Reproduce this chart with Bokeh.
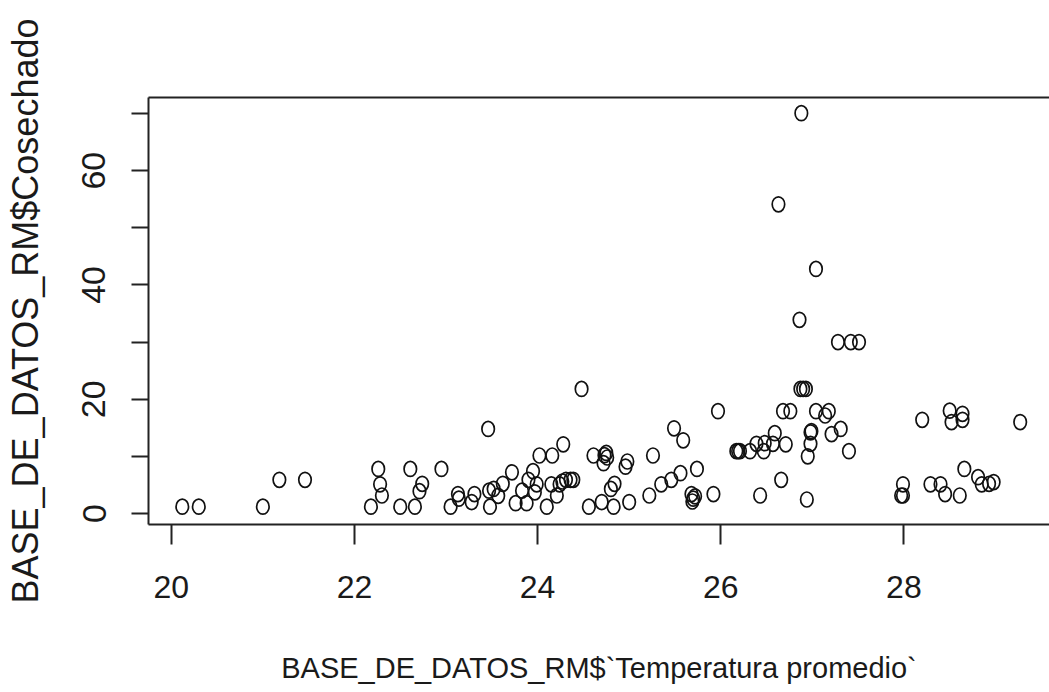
from bokeh.plotting import figure
from bokeh.models import Range1d, FixedTicker, LinearAxis, ColumnDataSource
from bokeh.embed import file_html
from bokeh.resources import INLINE

temperatura = [
    20.12, 20.30, 21.00, 21.18, 21.46, 22.18, 22.26, 22.28, 22.30, 22.50,
    22.61, 22.66, 22.71, 22.74, 22.95, 23.05, 23.13, 23.14, 23.28, 23.31,
    23.46, 23.47, 23.48, 23.52, 23.57, 23.62, 23.72, 23.76, 23.83, 23.88,
    23.90, 23.95, 23.97, 23.99, 24.02, 24.10, 24.15, 24.16, 24.21, 24.24,
    24.27, 24.28, 24.31, 24.36, 24.39, 24.48, 24.56, 24.61, 24.70, 24.72,
    24.73, 24.75, 24.76, 24.80, 24.83, 24.84, 24.96, 24.98, 25.00, 25.22,
    25.26, 25.35, 25.46, 25.49, 25.56, 25.59, 25.68, 25.70, 25.72, 25.69,
    25.74, 25.92, 25.97, 26.17, 26.19, 26.21, 26.32, 26.39, 26.43, 26.47,
    26.48, 26.57, 26.59, 26.63, 26.66, 26.68, 26.71, 26.76, 26.86, 26.87,
    26.88, 26.90, 26.93, 26.94, 26.95, 26.98, 26.98, 26.99, 27.04, 27.04,
    27.14, 27.18, 27.21, 27.28, 27.31, 27.40, 27.42, 27.51, 27.97, 27.99,
    27.99, 28.20, 28.29, 28.40, 28.45, 28.50, 28.52, 28.61, 28.64, 28.64,
    28.66, 28.81, 28.85, 28.93, 28.98, 29.27,
]
cosechado = [
    1.2, 1.2, 1.2, 5.9, 5.9, 1.2, 7.8, 5.1, 3.15, 1.2,
    7.8, 1.2, 3.9, 5.2, 7.8, 1.2, 3.4, 2.6, 2.0, 3.4,
    14.8, 4.0, 1.2, 4.3, 3.1, 5.2, 7.2, 1.8, 4.0, 1.8,
    5.9, 7.4, 3.7, 5.1, 10.15, 1.2, 5.1, 10.15, 3.15, 5.1,
    5.6, 12.1, 5.9, 5.9, 5.9, 21.8, 1.2, 10.15, 2.0, 8.8,
    10.2, 10.6, 9.8, 4.3, 1.2, 5.2, 8.2, 9.1, 2.0, 3.15,
    10.15, 5.1, 5.9, 14.9, 7.05, 12.8, 3.4, 2.6, 3.0, 2.1,
    7.8, 3.4, 17.9, 10.9, 10.9, 10.9, 10.9, 12.2, 3.15, 10.9,
    12.3, 12.2, 14.05, 54.1, 5.9, 17.9, 12.1, 17.9, 33.9, 21.8,
    70.05, 21.8, 21.8, 2.45, 10.0, 12.2, 14.2, 14.4, 17.9, 42.8,
    17.15, 17.9, 13.9, 30.0, 14.8, 10.9, 30.0, 30.0, 3.15, 3.15,
    5.1, 16.4, 5.1, 5.1, 3.4, 18.0, 16.0, 3.15, 17.45, 16.4,
    7.8, 6.35, 5.1, 5.2, 5.5, 16.0,
]
x_ticks = [20, 22, 24, 26, 28]
y_ticks = [0, 10, 20, 30, 40, 50, 60, 70]
y_labels = {0: "0", 10: "", 20: "20", 30: "", 40: "40", 50: "", 60: "60", 70: ""}

x_title = "BASE_DE_DATOS_RM$`Temperatura promedio`"
y_title = "BASE_DE_DATOS_RM$Cosechado"

source = ColumnDataSource(dict(x=temperatura, y=cosechado))

p = figure(width=1049, height=690, output_backend="svg", toolbar_location=None,
           x_range=Range1d(19.751, 29.590), y_range=Range1d(-1.925, 72.8),
           min_border_left=148, min_border_right=0, min_border_top=97,
           min_border_bottom=166, background_fill_color="white",
           border_fill_color="white")
p.outline_line_color = None
p.grid.visible = False

regular = "Liberation Sans, Arial, sans-serif"
ink = "#1a1a1a"

xa = p.xaxis[0]
xa.ticker = FixedTicker(ticks=x_ticks)
xa.axis_line_width = 2
xa.axis_line_color = "#222222"
xa.major_tick_line_width = 2
xa.major_tick_line_color = "#222222"
xa.major_tick_out = 20
xa.major_tick_in = 0
xa.minor_tick_line_color = None
xa.major_label_text_font = regular
xa.major_label_text_font_size = "32px"
xa.major_label_text_color = ink
xa.major_label_standoff = 31
xa.axis_label = x_title
xa.axis_label_text_font = regular
xa.axis_label_text_font_size = "29px"
xa.axis_label_text_font_style = "normal"
xa.axis_label_text_color = ink
xa.axis_label_standoff = 51

ya = p.yaxis[0]
ya.ticker = FixedTicker(ticks=y_ticks)
ya.major_label_overrides = y_labels
ya.axis_line_width = 2
ya.axis_line_color = "#222222"
ya.major_tick_line_width = 2
ya.major_tick_line_color = "#222222"
ya.major_tick_out = 17
ya.major_tick_in = 0
ya.minor_tick_line_color = None
ya.major_label_orientation = "vertical"
ya.major_label_text_font = regular
ya.major_label_text_font_size = "34px"
ya.major_label_text_color = ink
ya.major_label_standoff = 26
ya.axis_label = y_title
ya.axis_label_text_font = regular
ya.axis_label_text_font_size = "36px"
ya.axis_label_text_font_style = "normal"
ya.axis_label_text_color = ink
ya.axis_label_standoff = 34

top = LinearAxis(ticker=FixedTicker(ticks=[]), axis_line_width=2,
                 axis_line_color="#222222", major_label_text_font_size="0px",
                 major_tick_line_color=None, minor_tick_line_color=None)
p.add_layout(top, "above")

p.ellipse(x="x", y="y", width=12.5, height=15, width_units="screen",
          height_units="screen", source=source, fill_color=None,
          line_color="#111111", line_width=1.7)

open("out.html", "w").write(file_html(p, INLINE))
